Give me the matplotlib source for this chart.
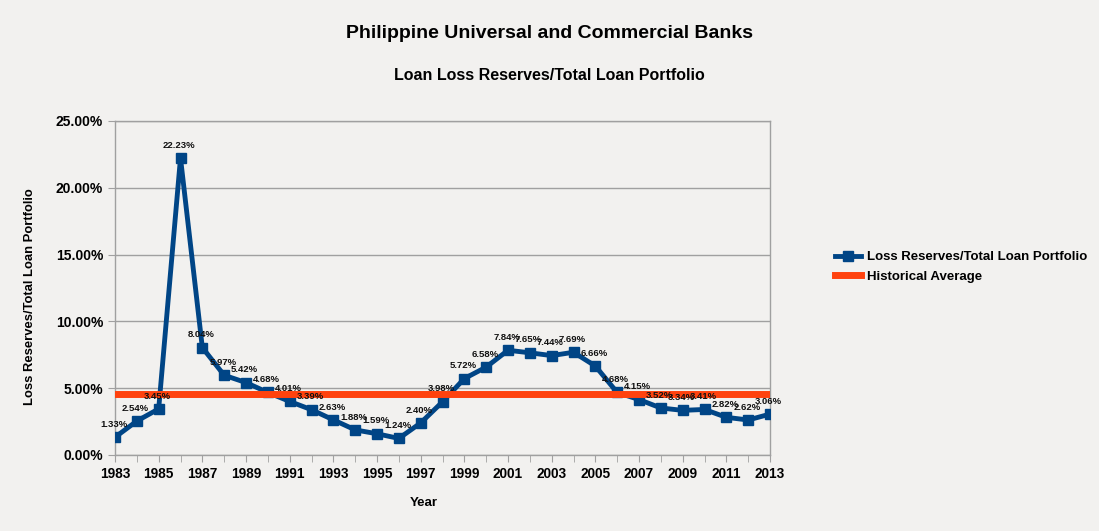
import numpy as np
import matplotlib
matplotlib.use("Agg")
import matplotlib.pyplot as plt
from matplotlib.ticker import FuncFormatter, MultipleLocator

plt.rcParams['font.family'] = ['Liberation Sans', 'DejaVu Sans']

# Loss reserves / total loan portfolio, percent
years = list(range(1983, 2014))
reserves_pct = [1.33, 2.54, 3.45, 22.23, 8.04, 5.97, 5.42, 4.68, 4.01, 3.39,
                2.63, 1.88, 1.59, 1.24, 2.40, 3.98, 5.72, 6.58, 7.84, 7.65,
                7.44, 7.69, 6.66, 4.68, 4.15, 3.52, 3.34, 3.41, 2.82, 2.62,
                3.06]
historical_avg = 4.56

bg = "#f2f1ef"
blue = "#004586"
red = "#ff420e"
grid_gray = "#a0a0a0"

fig = plt.figure(figsize=(10.99, 5.31), dpi=100, facecolor=bg)
ax = fig.add_axes([115 / 1099, 1 - 455 / 531, (770 - 115) / 1099, (455 - 121) / 531])
ax.set_facecolor(bg)

ax.plot(years, reserves_pct, color=blue, lw=3.5, marker="s", ms=7.5,
        label="Loss Reserves/Total Loan Portfolio", zorder=3)
ax.plot([years[0], years[-1]], [historical_avg, historical_avg], color=red,
        lw=5, label="Historical Average", zorder=4)

for x, y in zip(years, reserves_pct):
    ax.annotate(f"{y:.2f}%", (x, y), xytext=(-1, 6), textcoords="offset points",
                ha="center", va="bottom", fontsize=6.8, fontweight="bold",
                color="#111111", zorder=5)

ax.set_xlim(1983, 2013)
ax.set_ylim(0, 25)
ax.yaxis.set_major_locator(MultipleLocator(5))
ax.yaxis.set_major_formatter(FuncFormatter(lambda v, p: f"{v:.2f}%"))
ax.set_xticks(years[::2])
ax.set_xticks(years, minor=True)
ax.tick_params(axis="both", which="both", direction="out", length=5,
               color=grid_gray)
ax.tick_params(axis="x", labelsize=9.8)
ax.tick_params(axis="y", labelsize=10)
for lab in ax.get_xticklabels() + ax.get_yticklabels():
    lab.set_fontweight("bold")

ax.grid(axis="y", color=grid_gray, lw=1)
ax.set_axisbelow(True)
for side in ["left", "right", "top", "bottom"]:
    ax.spines[side].set_color(grid_gray)
    ax.spines[side].set_linewidth(1)

fig.text(549 / 1099, 1 - 34 / 531, "Philippine Universal and Commercial Banks",
         ha="center", va="center", fontsize=14, fontweight="bold")
fig.text(549 / 1099, 1 - 76 / 531, "Loan Loss Reserves/Total Loan Portfolio",
         ha="center", va="center", fontsize=11.5, fontweight="bold")
fig.text(30 / 1099, 1 - 297 / 531, "Loss Reserves/Total Loan Portfolio",
         ha="center", va="center", rotation=90, fontsize=9.4, fontweight="bold")
fig.text(424 / 1099, 1 - 503 / 531, "Year", ha="center", va="center",
         fontsize=9.5, fontweight="bold")

leg = fig.legend(loc="center left", bbox_to_anchor=(823 / 1099, 1 - 267 / 531),
                 frameon=False, handlelength=2.0, handletextpad=0.4,
                 labelspacing=0.55, prop={"size": 9.5, "weight": "bold"})

fig.savefig("out.png", dpi=100, facecolor=bg)
